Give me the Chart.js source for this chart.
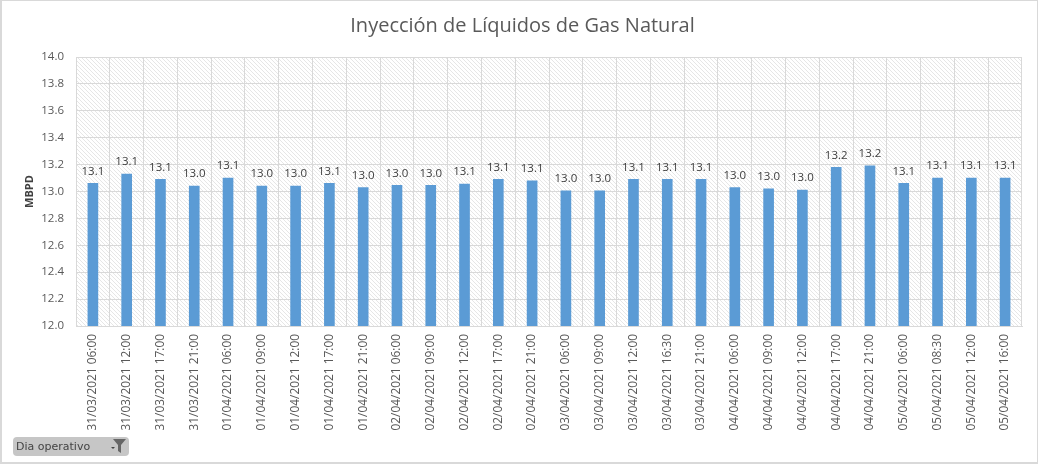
<!DOCTYPE html>
<html>
<head>
<meta charset="utf-8">
<title>Inyección de Líquidos de Gas Natural</title>
<script src="https://cdn.jsdelivr.net/npm/chart.js@4"></script>
<style>
    html, body { margin: 0; padding: 0; background: #fff; overflow: hidden; }
    #frame { position: absolute; left: 0; top: 0; width: 1038px; height: 465px; }
    #frame canvas { position: absolute; left: 0; top: 0; }
    #edge { position: absolute; left: 0; top: 0; width: 1035px; height: 461px; border: solid #d9d9d9; border-width: 1px 2px 2px 2px; pointer-events: none; }
    #slicer { position: absolute; left: 13px; top: 437px; width: 116px; height: 19px; background: #c6c6c6; border-radius: 4px; font: 11px "DejaVu Sans", sans-serif; color: #444; line-height: 19px; }
    #slicer span { position: absolute; left: 3px; top: 0; }
    #slicer svg { position: absolute; left: 97px; top: 2px; }
</style>
</head>
<body>
<div id="frame">
    <canvas id="myChart" width="1038" height="465"></canvas>
    <div id="edge"></div>
    <div id="slicer"><span>Dia operativo</span>
        <svg width="17" height="15" viewBox="0 0 17 15">
            <path d="M1 8h4l-2 2z" fill="#444"/>
            <path d="M3 0h13l-5 6v8l-3-2V6z" fill="#666"/>
        </svg>
    </div>
</div>

<script>
let categories = [
    '31/03/2021 06:00', '31/03/2021 12:00', '31/03/2021 17:00', '31/03/2021 21:00',
    '01/04/2021 06:00', '01/04/2021 09:00', '01/04/2021 12:00', '01/04/2021 17:00', '01/04/2021 21:00',
    '02/04/2021 06:00', '02/04/2021 09:00', '02/04/2021 12:00', '02/04/2021 17:00', '02/04/2021 21:00',
    '03/04/2021 06:00', '03/04/2021 09:00', '03/04/2021 12:00', '03/04/2021 16:30', '03/04/2021 21:00',
    '04/04/2021 06:00', '04/04/2021 09:00', '04/04/2021 12:00', '04/04/2021 17:00', '04/04/2021 21:00',
    '05/04/2021 06:00', '05/04/2021 08:30', '05/04/2021 12:00', '05/04/2021 16:00'
];
let values = [
    13.06, 13.13, 13.09, 13.04,
    13.10, 13.04, 13.04, 13.06, 13.03,
    13.045, 13.045, 13.055, 13.09, 13.08,
    13.005, 13.005, 13.09, 13.09, 13.09,
    13.03, 13.02, 13.01, 13.18, 13.19,
    13.06, 13.10, 13.10, 13.10
];
let chartTitle = 'Inyección de Líquidos de Gas Natural';
let yAxisTitle = 'MBPD';

function hatchPattern(ctx) {
    let tile = document.createElement('canvas');
    tile.width = 4;
    tile.height = 4;
    let t = tile.getContext('2d');
    t.fillStyle = '#ffffff';
    t.fillRect(0, 0, 4, 4);
    t.fillStyle = '#e6e6e6';
    for (let i = 0; i < 4; i++) {
        t.fillRect(i, i, 1, 1);
    }
    return ctx.createPattern(tile, 'repeat');
}

const plotBackground = {
    id: 'plotBackground',
    beforeDraw(chart) {
        let a = chart.chartArea;
        chart.ctx.save();
        chart.ctx.fillStyle = hatchPattern(chart.ctx);
        chart.ctx.fillRect(a.left, a.top, a.width, a.height);
        chart.ctx.restore();
    }
};

const barLabels = {
    id: 'barLabels',
    afterDatasetsDraw(chart) {
        let ctx = chart.ctx;
        ctx.save();
        ctx.font = '11.5px "Open Sans", sans-serif';
        ctx.fillStyle = '#404040';
        ctx.textAlign = 'center';
        ctx.textBaseline = 'middle';
        chart.getDatasetMeta(0).data.forEach((bar, i) => {
            ctx.fillText(values[i].toFixed(1), bar.x, bar.y - 12);
        });
        ctx.restore();
    }
};

new Chart(document.getElementById('myChart'), {
    type: 'bar',
    data: {
        labels: categories,
        datasets: [{
            label: 'Inyección',
            data: values,
            backgroundColor: '#5b9bd5',
            barThickness: 10
        }]
    },
    plugins: [plotBackground, barLabels],
    options: {
        responsive: false,
        animation: false,
        layout: { padding: { top: 0, right: 16, bottom: 0, left: 23 } },
        plugins: {
            legend: { display: false },
            tooltip: { enabled: false },
            title: {
                display: true,
                text: chartTitle,
                color: '#595959',
                font: { family: '"Open Sans", sans-serif', size: 20, weight: 'normal' },
                padding: { top: 14, bottom: 19 }
            }
        },
        scales: {
            x: {
                grid: { color: '#d9d9d9', tickLength: 0 },
                border: { color: '#d9d9d9' },
                ticks: {
                    color: '#595959',
                    font: { family: '"Open Sans", sans-serif', size: 11.9 },
                    minRotation: 90,
                    maxRotation: 90,
                    autoSkip: false,
                    padding: 8
                },
                afterFit(scale) { scale.height = 139; }
            },
            y: {
                min: 12,
                max: 14,
                grid: { color: '#d9d9d9', tickLength: 0 },
                border: { color: '#d9d9d9' },
                ticks: {
                    stepSize: 0.2,
                    color: '#595959',
                    font: { family: '"Open Sans", sans-serif', size: 11.5 },
                    padding: 12,
                    callback: function (value) { return value.toFixed(1); }
                },
                title: {
                    display: true,
                    text: yAxisTitle,
                    color: '#404040',
                    font: { family: '"Open Sans", sans-serif', size: 11, weight: 'bold' },
                    padding: 0
                },
                afterFit(scale) { scale.width = 53; }
            }
        }
    }
});
</script>
</body>
</html>
